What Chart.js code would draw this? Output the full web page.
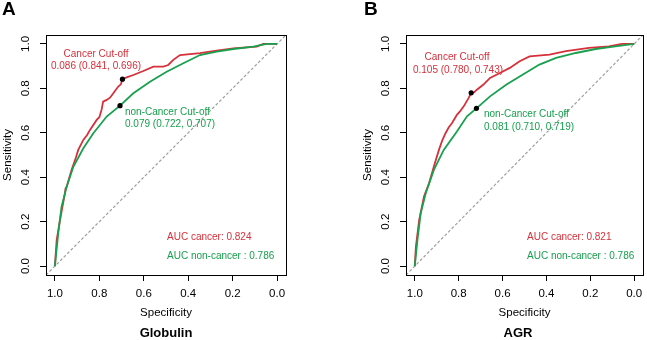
<!DOCTYPE html>
<html>
<head>
<meta charset="utf-8">
<script src="https://cdn.jsdelivr.net/npm/chart.js@4"></script>
<style>
  html, body { margin: 0; padding: 0; background: #fff; overflow: hidden; }
  #wrap { position: relative; width: 647px; height: 340px; }
  canvas { position: absolute; top: 0; }
  #globulinChart { left: 0; }
  #agrChart { left: 360px; }
</style>
</head>
<body>
<div id="wrap">
  <canvas id="globulinChart" width="323" height="340"></canvas>
  <canvas id="agrChart" width="287" height="340"></canvas>
</div>
<script>
// axis ticks (specificity axis is reversed)
const axisTicks = [0, 0.2, 0.4, 0.6, 0.8, 1.0];

// chance line, corner to corner of the plot region
const diagSpec = [1.04, -0.04];
const diagSens = [-0.04, 1.04];

// Globulin - cancer
const globulinCancerSpec = [1.0, 0.992, 0.977, 0.955, 0.952, 0.947, 0.925, 0.905, 0.895, 0.872, 0.855, 0.842, 0.812, 0.8, 0.79, 0.783, 0.767, 0.752, 0.737, 0.715, 0.703, 0.696, 0.68, 0.647, 0.602, 0.557, 0.512, 0.49, 0.467, 0.437, 0.347, 0.272, 0.197, 0.092, 0.062, 0.0];
const globulinCancerSens = [0.0, 0.117, 0.207, 0.327, 0.35, 0.357, 0.432, 0.49, 0.523, 0.568, 0.59, 0.613, 0.658, 0.67, 0.703, 0.74, 0.748, 0.758, 0.778, 0.808, 0.818, 0.841, 0.848, 0.86, 0.878, 0.898, 0.898, 0.905, 0.928, 0.95, 0.958, 0.97, 0.98, 0.988, 1.0, 1.0];

// Globulin - non-cancer
const globulinNonCancerSpec = [1.0, 0.985, 0.97, 0.947, 0.917, 0.872, 0.827, 0.767, 0.707, 0.647, 0.572, 0.497, 0.422, 0.347, 0.272, 0.197, 0.107, 0.047, 0.0];
const globulinNonCancerSens = [0.0, 0.147, 0.267, 0.357, 0.447, 0.53, 0.598, 0.673, 0.722, 0.778, 0.83, 0.875, 0.913, 0.95, 0.965, 0.977, 0.988, 1.0, 1.0];

// Globulin cut-off points (cancer, non-cancer)
const globulinCutSpec = [0.696, 0.707];
const globulinCutSens = [0.841, 0.722];

// AGR - cancer
const agrCancerSpec = [1.0, 0.995, 0.98, 0.958, 0.935, 0.913, 0.89, 0.875, 0.86, 0.845, 0.83, 0.808, 0.795, 0.777, 0.755, 0.743, 0.73, 0.717, 0.687, 0.657, 0.612, 0.567, 0.522, 0.477, 0.386, 0.311, 0.206, 0.116, 0.056, 0.0];
const agrCancerSens = [0.0, 0.087, 0.207, 0.313, 0.373, 0.448, 0.523, 0.565, 0.598, 0.625, 0.644, 0.681, 0.695, 0.719, 0.756, 0.78, 0.782, 0.794, 0.817, 0.847, 0.869, 0.892, 0.922, 0.944, 0.952, 0.967, 0.982, 0.989, 1.0, 1.0];

// AGR - non-cancer
const agrNonCancerSpec = [1.0, 0.988, 0.973, 0.95, 0.913, 0.868, 0.808, 0.762, 0.719, 0.657, 0.582, 0.507, 0.432, 0.356, 0.266, 0.176, 0.086, 0.0];
const agrNonCancerSens = [0.0, 0.117, 0.238, 0.328, 0.433, 0.523, 0.606, 0.674, 0.71, 0.764, 0.817, 0.862, 0.907, 0.937, 0.959, 0.977, 0.989, 1.0];

// AGR cut-off points (cancer, non-cancer)
const agrCutSpec = [0.743, 0.719];
const agrCutSens = [0.78, 0.71];

const RED = "#D7303A";
const GREEN = "#17A04D";
const FONT = "'Liberation Sans', Arial, Helvetica, sans-serif";

Chart.defaults.font.family = FONT;
Chart.defaults.color = "#000";

function toPoints(spec, sens) {
  return spec.map((s, i) => ({ x: s, y: sens[i] }));
}

function makeOverlay(letter, letterX, caption, captionX, notes) {
  return {
    id: "overlay",
    afterDatasetsDraw(chart) {
      const { ctx, chartArea: a } = chart;
      ctx.save();
      ctx.strokeStyle = "#000";
      ctx.lineWidth = 1;
      ctx.strokeRect(a.left + 0.5, a.top + 0.5, a.right - a.left, a.bottom - a.top);

      ctx.textBaseline = "middle";
      notes.forEach((n) => {
        ctx.font = "10px " + FONT;
        ctx.fillStyle = n.color;
        ctx.textAlign = n.align;
        ctx.fillText(n.text, n.x, n.y);
      });
      ctx.restore();
    },
    afterDraw(chart) {
      const ctx = chart.ctx;
      ctx.save();
      ctx.fillStyle = "#000";
      ctx.textBaseline = "middle";
      ctx.textAlign = "left";
      ctx.font = "bold 19px " + FONT;
      ctx.fillText(letter, letterX, 10);
      ctx.textAlign = "center";
      ctx.font = "bold 13px " + FONT;
      ctx.fillText(caption, captionX, 333);
      ctx.restore();
    },
  };
}

function buildPanel(canvasId, d, overlay, rightPad) {
  const ctx = document.getElementById(canvasId).getContext("2d");
  return new Chart(ctx, {
    type: "scatter",
    data: {
      datasets: [
        {
          data: toPoints(d.cutSpec, d.cutSens),
          showLine: false,
          pointRadius: 2.6,
          pointBackgroundColor: "#000",
          pointBorderWidth: 0,
        },
        {
          data: toPoints(d.nonSpec, d.nonSens),
          showLine: true,
          borderColor: GREEN,
          borderWidth: 1.8,
          pointRadius: 0,
        },
        {
          data: toPoints(d.canSpec, d.canSens),
          showLine: true,
          borderColor: RED,
          borderWidth: 1.8,
          pointRadius: 0,
        },
        {
          data: toPoints(diagSpec, diagSens),
          showLine: true,
          borderColor: "#a0a0a0",
          borderWidth: 1.2,
          borderDash: [3, 2],
          pointRadius: 0,
        },
      ],
    },
    options: {
      responsive: false,
      animation: false,
      layout: { padding: { left: 0, right: rightPad, top: 35, bottom: 0 } },
      plugins: {
        legend: { display: false },
        tooltip: { enabled: false },
      },
      scales: {
        x: {
          type: "linear",
          reverse: true,
          min: -0.04,
          max: 1.04,
          afterBuildTicks: (scale) => {
            scale.ticks = axisTicks.map((v) => ({ value: v }));
          },
          afterFit: (scale) => {
            scale.height = 65;
          },
          ticks: {
            autoSkip: false,
            maxRotation: 0,
            padding: 6,
            color: "#000",
            font: { size: 11.5 },
            callback: (v) => Number(v).toFixed(1),
          },
          grid: { drawOnChartArea: false, tickLength: 6, color: "#000" },
          border: { display: false },
          title: {
            display: true,
            text: "Specificity",
            color: "#000",
            font: { size: 11.5 },
            padding: { top: 0, bottom: 20 },
          },
        },
        y: {
          type: "linear",
          min: -0.04,
          max: 1.04,
          afterBuildTicks: (scale) => {
            scale.ticks = axisTicks.map((v) => ({ value: v }));
          },
          afterFit: (scale) => {
            scale.width = 46;
          },
          ticks: {
            autoSkip: false,
            minRotation: 90,
            maxRotation: 90,
            crossAlign: "center",
            padding: 6,
            color: "#000",
            font: { size: 11.5 },
            callback: (v) => Number(v).toFixed(1),
          },
          grid: { drawOnChartArea: false, tickLength: 6, color: "#000" },
          border: { display: false },
          title: {
            display: true,
            text: "Sensitivity",
            color: "#000",
            font: { size: 11.5 },
            padding: { top: 1, bottom: 0 },
          },
        },
      },
    },
    plugins: [overlay],
  });
}

buildPanel(
  "globulinChart",
  {
    canSpec: globulinCancerSpec, canSens: globulinCancerSens,
    nonSpec: globulinNonCancerSpec, nonSens: globulinNonCancerSens,
    cutSpec: globulinCutSpec, cutSens: globulinCutSens,
  },
  makeOverlay("A", 2, "Globulin", 166, [
    { text: "Cancer Cut-off", x: 96, y: 54, align: "center", color: RED },
    { text: "0.086 (0.841, 0.696)", x: 96, y: 66, align: "center", color: RED },
    { text: "non-Cancer Cut-off", x: 125, y: 112, align: "left", color: GREEN },
    { text: "0.079 (0.722, 0.707)", x: 125, y: 124, align: "left", color: GREEN },
    { text: "AUC cancer: 0.824", x: 167, y: 237, align: "left", color: RED },
    { text: "AUC non-cancer : 0.786", x: 167, y: 256, align: "left", color: GREEN },
  ]),
  37
);

buildPanel(
  "agrChart",
  {
    canSpec: agrCancerSpec, canSens: agrCancerSens,
    nonSpec: agrNonCancerSpec, nonSens: agrNonCancerSens,
    cutSpec: agrCutSpec, cutSens: agrCutSens,
  },
  makeOverlay("B", 4, "AGR", 158, [
    { text: "Cancer Cut-off", x: 97, y: 57, align: "center", color: RED },
    { text: "0.105 (0.780, 0.743)", x: 98, y: 70, align: "center", color: RED },
    { text: "non-Cancer Cut-off", x: 124, y: 114, align: "left", color: GREEN },
    { text: "0.081 (0.710, 0.719)", x: 124, y: 127, align: "left", color: GREEN },
    { text: "AUC cancer: 0.821", x: 167, y: 237, align: "left", color: RED },
    { text: "AUC non-cancer : 0.786", x: 167, y: 256, align: "left", color: GREEN },
  ]),
  2
);
</script>
</body>
</html>
